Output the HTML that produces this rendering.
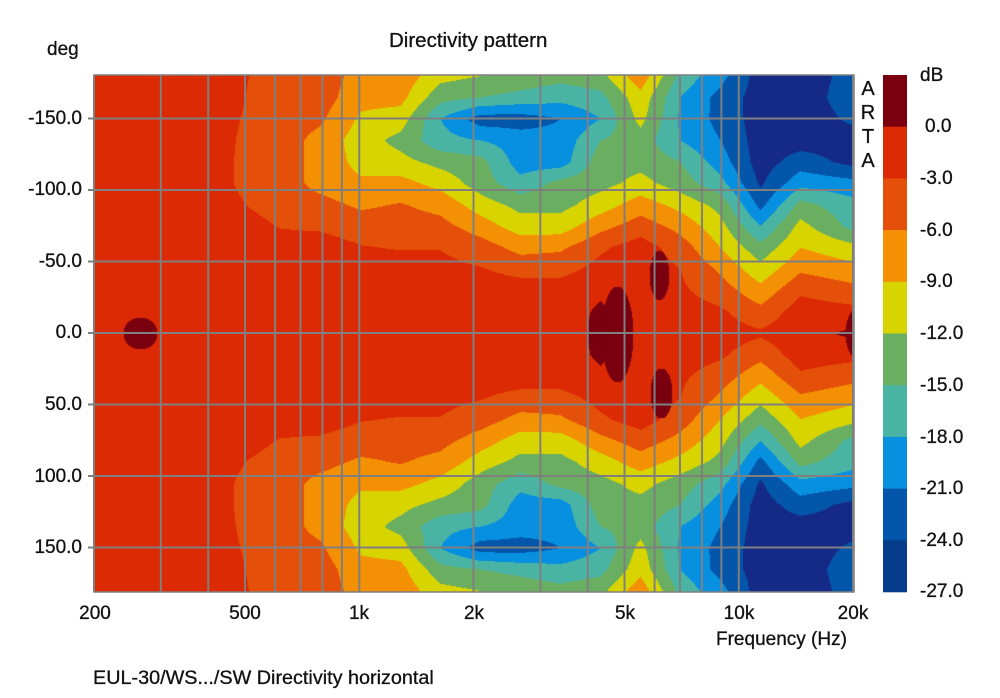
<!DOCTYPE html>
<html><head><meta charset="utf-8"><style>
body{margin:0;background:#fff;width:1000px;height:698px;position:relative;overflow:hidden;font-family:"Liberation Sans",Arial,sans-serif;color:#111}
.t{position:absolute;font-size:19px;white-space:nowrap;-webkit-text-stroke:0.3px #111}
.yl{position:absolute;font-size:19px;right:918px;transform:translateY(-50%);-webkit-text-stroke:0.3px #111}
.xl{position:absolute;font-size:19px;top:603px;transform:translateX(-50%);-webkit-text-stroke:0.3px #111}
.cl{position:absolute;font-size:19px;left:920px;transform:translateY(-50%);-webkit-text-stroke:0.3px #111}
canvas{position:absolute;left:94px;top:75px}
</style></head><body>
<div class="t" style="left:389px;top:29px;font-size:20.5px">Directivity pattern</div>
<div class="t" style="left:47px;top:39px">deg</div>
<canvas id="c" width="760" height="517"></canvas>
<svg width="1000" height="698" style="position:absolute;left:0;top:0" id="s"></svg>
<div class="yl" style="top:119px">-150.0</div>
<div class="yl" style="top:190px">-100.0</div>
<div class="yl" style="top:262px">-50.0</div>
<div class="yl" style="top:333px">0.0</div>
<div class="yl" style="top:405px">50.0</div>
<div class="yl" style="top:477px">100.0</div>
<div class="yl" style="top:548px">150.0</div>
<div class="xl" style="left:95px">200</div>
<div class="xl" style="left:245px">500</div>
<div class="xl" style="left:359px">1k</div>
<div class="xl" style="left:474px">2k</div>
<div class="xl" style="left:625px">5k</div>
<div class="xl" style="left:739px">10k</div>
<div class="xl" style="left:853px">20k</div>
<div class="t" style="left:716px;top:629px">Frequency (Hz)</div>
<div class="t" style="left:93px;top:667px;font-size:19.8px">EUL-30/WS.../SW Directivity horizontal</div>
<div class="t" style="left:860px;top:77px;line-height:24px;font-size:20px;width:16px;text-align:center">A<br>R<br>T<br>A</div>
<div class="cl" style="top:76px">dB</div>
<div class="cl" style="top:127px;left:925px">0.0</div>
<div class="cl" style="top:179px">-3.0</div>
<div class="cl" style="top:231px">-6.0</div>
<div class="cl" style="top:282px">-9.0</div>
<div class="cl" style="top:334px">-12.0</div>
<div class="cl" style="top:386px">-15.0</div>
<div class="cl" style="top:438px">-18.0</div>
<div class="cl" style="top:489px">-21.0</div>
<div class="cl" style="top:541px">-24.0</div>
<div class="cl" style="top:592px">-27.0</div>
<script>
var cols=["#7a0010","#dc2a04","#e4500a","#f49004","#d8d400","#6aae62","#4ab4a4","#0890e0","#0456aa","#152a86"];
var X=[94,200,240,280,320,360,400,440,480,520,560,600,640,680,720,760,800,853];
var T=[
[-1.5,-1.5,-1.5,-1.5,-1.5,-1.5,-1.5,-1.5,-1.5,-1.5,-1.5,-1.5,-1.5],
[-1.5,-1.5,-1.5,-1.5,-1.5,-1.5,-1.5,-1.5,-1.5,-1.5,-1.5,-1.5,-1.5],
[-1.5,-1.5,-1.5,-1.5,-1.5,-1.5,-2.8,-3.3,-3.3,-3.2,-3,-2.8,-2.6],
[-1.5,-1.5,-1.5,-1.5,-1.5,-3.2,-4.5,-4.5,-4.5,-4.5,-4.5,-4.5,-4.5],
[-1.5,-1.5,-1.5,-1.5,-1.5,-3.5,-5,-7,-7,-7,-5.5,-4.5,-4.5],
[-1.5,-1.5,-1.5,-1.5,-2.8,-4.5,-6.5,-8.5,-10,-10.5,-9.5,-8,-7],
[-1.5,-1.5,-1.5,-1.5,-3.2,-4.5,-5.8,-8,-11,-13,-10.5,-8,-7],
[-1.5,-1.5,-1.5,-2.2,-3.1,-5,-7,-10,-13,-17,-18,-14,-11],
[-1.5,-1.5,-1.5,-2.8,-4.5,-7.5,-10.5,-13.5,-14,-18,-22.5,-15,-12],
[-1.5,-1.5,-1.5,-4,-7,-10.5,-13,-17,-19.5,-19.5,-22.5,-16,-13],
[-1.5,-1.5,-1.5,-4,-6.5,-10.5,-13,-14,-19.5,-20,-21,-17,-14],
[0.8,0.5,-0.5,-2,-3.5,-7,-10.5,-13,-13.5,-15,-18,-16,-13],
[-1.5,-1.5,-1.5,-1,-1.5,-4.5,-7.5,-11,-13,-13.5,-11,-10,-7],
[-1.5,-1.5,-2.5,-3,-4.5,-7,-10,-13.5,-15,-18,-18.5,-18,-16],
[-1.5,-2.5,-4.5,-6.5,-9,-11,-13,-17,-19.5,-21,-22,-22,-20],
[-2.5,-5,-8,-11,-14,-18,-22,-24.5,-25.5,-25.5,-25.5,-25.5,-25.5],
[-1,-1.5,-3.5,-6.5,-9,-11,-14,-19,-22.5,-25.5,-25.5,-25.5,-25.5],
[0.6,-2,-5,-8,-11,-16,-17,-20,-25,-25,-23.5,-22.5,-23]];
var blobs=[[140,333,17,16],[617,334,16,48],[659,275,10,25],[661,393,11,25],[856,333,11,24]];
var c=document.getElementById('c').getContext('2d');
var img=c.createImageData(760,517),d=img.data;
function hex(h){return [parseInt(h.substr(1,2),16),parseInt(h.substr(3,2),16),parseInt(h.substr(5,2),16)]}
var rgb=cols.map(hex);
for(var py=0;py<517;py++){var Y=py+75;var a=Math.abs(Y-333)/1.43;if(a>180)a=180;var ai=Math.min(11,Math.floor(a/15)),af=a/15-ai;
 for(var px=0;px<760;px++){var Xp=px+94;var k=0;while(k<X.length-2&&Xp>X[k+1])k++;var xf=(Xp-X[k])/(X[k+1]-X[k]);if(xf>1)xf=1;
  var v0=T[k][ai]*(1-af)+T[k][ai+1]*af,v1=T[k+1][ai]*(1-af)+T[k+1][ai+1]*af;var v=v0*(1-xf)+v1*xf;
  var b;if(v>=0)b=0;else b=Math.min(9,1+Math.floor(-v/3));
  for(var j=0;j<blobs.length;j++){var q=blobs[j];var dx=(Xp-q[0])/q[2],dy=(Y-q[1])/q[3];if(dx*dx+dy*dy<1)b=0;}
  var o=(py*760+px)*4,cc=rgb[b];d[o]=cc[0];d[o+1]=cc[1];d[o+2]=cc[2];d[o+3]=255;}}
c.putImageData(img,0,0);
var s='';var g='stroke="#7f7f7f" stroke-width="2"';
[200,300,400,500,600,700,800,900,1000,2000,3000,4000,5000,6000,7000,8000,9000,10000,20000].forEach(function(f){var x=94+379.5*Math.log10(f/200);s+='<line x1="'+x+'" y1="75" x2="'+x+'" y2="592" '+g+'/>';});
[-150,-100,-50,0,50,100,150].forEach(function(v){var y=333+v*1.43;s+='<line x1="88" y1="'+y+'" x2="854" y2="'+y+'" '+g+'/>';});
s+='<rect x="94" y="75" width="760" height="517" fill="none" stroke="#7f7f7f" stroke-width="1.5"/>';
var cb=["#7a0010","#dc2a04","#e4500a","#f49004","#d8d400","#6aae62","#4ab4a4","#0890e0","#0456aa","#063c8c"];
for(var i=0;i<10;i++)s+='<rect x="883" y="'+(75+i*51.7)+'" width="24" height="52" fill="'+cb[i]+'"/>';
document.getElementById('s').innerHTML=s;
</script>
</body></html>
